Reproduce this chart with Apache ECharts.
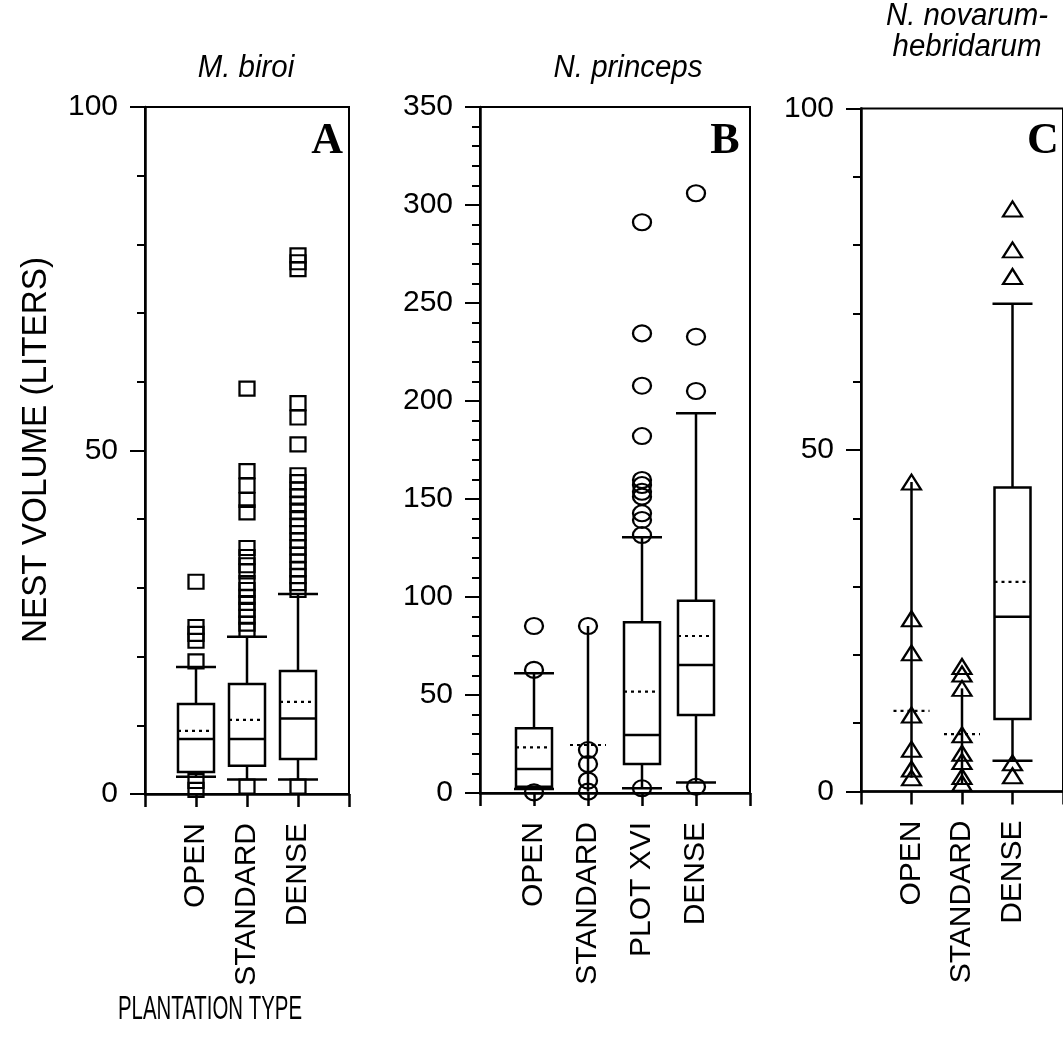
<!DOCTYPE html>
<html><head><meta charset="utf-8">
<script src="https://cdn.jsdelivr.net/npm/echarts@6/dist/echarts.min.js"></script>
<style>html,body{margin:0;padding:0;background:#fff}#c{width:1063px;height:1043px}</style>
</head><body><div id="c"></div>
<script>
// ---------- Panel A : M. biroi ----------
const catsA = ['OPEN', 'STANDARD', 'DENSE'];
// [lower whisker, q1, median, q3, upper whisker]
const boxA = [
  [2.5, 3.2, 8.0, 13.1, 18.5],
  [2.1, 4.1, 8.0, 16.0, 22.9],
  [2.1, 5.1, 11.0, 17.9, 29.1]
];
const meanA = [9.2, 10.8, 13.4];
const outA = [
  [30.9, 24.3, 23.3, 22.3, 19.3, 1.9, 0.6],
  [59.0, 47.0, 44.9, 42.8, 41.0, 35.8, 34.5, 33.3, 32.4, 30.7, 29.7, 28.7, 27.8, 26.8, 25.8, 24.8, 23.9, 1.1],
  [78.4, 77.4, 76.4, 56.9, 54.8, 50.9, 46.4, 45.4, 44.3, 43.3, 42.2, 41.1, 40.0, 39.0, 38.0, 36.9, 35.9, 34.8, 33.8, 32.7, 31.7, 30.7, 29.7, 1.1]
];
const yTicksA = [0, 50, 100];

// ---------- Panel B : N. princeps ----------
const catsB = ['OPEN', 'STANDARD', 'PLOT XVI', 'DENSE'];
const boxB = [
  [2.0, 3.2, 12.2, 33.0, 61.1],
  [0.7, null, null, null, 85.2],
  [2.4, 14.8, 29.6, 87.1, 130.5],
  [5.3, 39.8, 65.3, 98.1, 193.7]
];
const meanB = [23.3, 24.5, 51.7, 80.1];
const outB = [
  [85.2, 62.8, 0.3],
  [85.2, 21.9, 14.8, 6.3, 0.7],
  [291.2, 234.5, 207.8, 182.1, 159.7, 157.1, 153.7, 151.2, 142.7, 139.3, 131.6, 2.4],
  [306.0, 232.8, 205.1, 3.2]
];
const yTicksB = [0, 50, 100, 150, 200, 250, 300, 350];

// ---------- Panel C : N. novarum-hebridarum ----------
const catsC = ['OPEN', 'STANDARD', 'DENSE'];
const boxC = [
  [2.0, null, null, null, 45.3],
  [1.2, null, null, null, 15.1],
  [4.5, 10.6, 25.6, 44.5, 71.4]
];
const meanC = [11.8, 8.4, 30.7];
const outC = [
  [45.3, 25.3, 20.3, 11.2, 6.2, 3.3, 2.0],
  [18.3, 17.2, 15.1, 8.3, 5.6, 4.4, 2.2, 1.2],
  [85.3, 79.3, 75.4, 4.2, 2.3]
];
const yTicksC = [0, 50, 100];

const FONT = "'Liberation Sans', Arial, Helvetica, sans-serif";
const LW = 2.5;

function makeRender(box, mean, boxW, capW) {
  return function (params, api) {
    const i = params.dataIndex;
    const x = api.value(0);
    const b = box[i];
    const P = v => api.coord([x, v]);
    const ln = (x1, y1, x2, y2, dash, w) => ({
      type: 'line', shape: { x1, y1, x2, y2 },
      style: { stroke: '#000', lineWidth: w || LW, lineDash: dash || null, fill: null }
    });
    const ch = [];
    const pl = P(b[0]), ph = P(b[4]);
    if (b[1] == null) {
      ch.push(ln(pl[0], pl[1], ph[0], ph[1]));
    } else {
      const p1 = P(b[1]), pm = P(b[2]), p3 = P(b[3]);
      ch.push(ln(pl[0], pl[1], p1[0], p1[1]));
      ch.push(ln(p3[0], p3[1], ph[0], ph[1]));
      ch.push(ln(pl[0] - capW / 2, pl[1], pl[0] + capW / 2, pl[1]));
      ch.push(ln(ph[0] - capW / 2, ph[1], ph[0] + capW / 2, ph[1]));
      ch.push({ type: 'rect', shape: { x: p3[0] - boxW / 2, y: p3[1], width: boxW, height: p1[1] - p3[1] },
        style: { fill: null, stroke: '#000', lineWidth: LW } });
      ch.push(ln(pm[0] - boxW / 2, pm[1], pm[0] + boxW / 2, pm[1]));
    }
    const pmean = P(mean[i]);
    ch.push(ln(pmean[0] - boxW / 2, pmean[1], pmean[0] + boxW / 2, pmean[1], [3, 4], 2.2));
    return { type: 'group', children: ch };
  };
}

const panels = [
  { cats: catsA, box: boxA, mean: meanA, out: outA, ticks: yTicksA, ymax: 100, sym: 'rect', size: [15, 14],
    grid: { left: 145, top: 107, width: 204, height: 687 } },
  { cats: catsB, box: boxB, mean: meanB, out: outB, ticks: yTicksB, ymax: 350, sym: 'circle', size: [18, 16],
    grid: { left: 480, top: 107, width: 270, height: 686 } },
  { cats: catsC, box: boxC, mean: meanC, out: outC, ticks: yTicksC, ymax: 100, sym: 'triangle', size: [19, 15],
    grid: { left: 861, top: 108.5, width: 207, height: 683 } }
];

const grid = [], xAxis = [], yAxis = [], series = [];
panels.forEach((p, k) => {
  grid.push(Object.assign({ show: true, borderColor: '#000', borderWidth: 2, backgroundColor: 'transparent' }, p.grid));
  xAxis.push({
    type: 'value', gridIndex: k, min: 0, max: p.cats.length + 1, interval: 1,
    axisLine: { lineStyle: { color: '#000', width: LW } },
    axisTick: { show: true, length: 13, lineStyle: { color: '#000', width: LW } },
    splitLine: { show: false },
    axisLabel: {
      rotate: 90, margin: 29, color: '#000', fontFamily: FONT, fontSize: 30,
      formatter: v => p.cats[v - 1] || ''
    }
  });
  yAxis.push({
    type: 'value', gridIndex: k, min: 0, max: p.ymax, interval: 50,
    axisLine: { show: true, lineStyle: { color: '#000', width: LW } },
    axisTick: { show: true, length: 15, lineStyle: { color: '#000', width: 2 } },
    minorTick: { show: true, splitNumber: 5, length: 8, lineStyle: { color: '#000', width: 2 } },
    splitLine: { show: false },
    axisLabel: {
      margin: 27, color: '#000', fontFamily: FONT, fontSize: 30,
      formatter: v => (p.ticks.indexOf(v) >= 0 ? String(v) : '')
    }
  });
  series.push({
    type: 'custom', xAxisIndex: k, yAxisIndex: k, clip: false,
    renderItem: makeRender(p.box, p.mean, 36, 40),
    encode: { x: 0, y: [1, 2] },
    data: p.cats.map((c, i) => [i + 1, p.box[i][0], p.box[i][4]]),
    silent: true, z: 2
  });
  series.push({
    type: 'scatter', xAxisIndex: k, yAxisIndex: k, symbol: p.sym, symbolSize: p.size,
    itemStyle: { color: 'rgba(0,0,0,0)', borderColor: '#000', borderWidth: 2.2, opacity: 1 },
    data: p.out.flatMap((arr, i) => arr.map(v => [i + 1, v])),
    silent: true, z: 3, animation: false
  });
});

const txt = (x, y, s, font, opt, align) => Object.assign({
  type: 'text', x, y,
  style: { text: s, fill: '#000', font, textAlign: align || 'center', textVerticalAlign: 'middle' }
}, opt || {});

const ital = `italic 31px ${FONT}`;
const serifB = `bold 44px 'Liberation Serif', 'Times New Roman', serif`;
const graphic = [
  txt(246, 68, 'M. biroi', ital, { scaleX: 0.95 }),
  txt(628, 68, 'N. princeps', ital, { scaleX: 0.95 }),
  txt(967, 16, 'N. novarum-', ital, { scaleX: 0.95 }),
  txt(967, 47, 'hebridarum', ital, { scaleX: 0.95 }),
  txt(343, 142, 'A', serifB, null, 'right'),
  txt(725, 142, 'B', serifB),
  txt(1043, 142, 'C', serifB),
  txt(210, 1010, 'PLANTATION TYPE', `34px ${FONT}`, { scaleX: 0.6 }),
  txt(36, 450, 'NEST VOLUME (LITERS)', `35px ${FONT}`, { rotation: Math.PI / 2, scaleX: 0.95 })
];

const chart = echarts.init(document.getElementById('c'), null, { renderer: 'canvas' });
chart.setOption({ animation: false, backgroundColor: '#fff', grid, xAxis, yAxis, series, graphic });
</script></body></html>
